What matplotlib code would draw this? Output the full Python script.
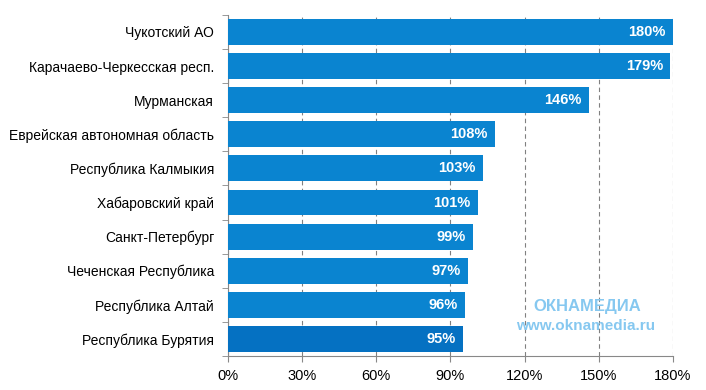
import matplotlib.pyplot as plt
import numpy as np

plt.rcParams['font.family'] = ['Liberation Sans', 'DejaVu Sans']

regions = ["Чукотский АО", "Карачаево-Черкесская респ.", "Мурманская",
           "Еврейская автономная область", "Республика Калмыкия",
           "Хабаровский край", "Санкт-Петербург", "Чеченская Республика",
           "Республика Алтай", "Республика Бурятия"]
values = [180, 179, 146, 108, 103, 101, 99, 97, 96, 95]
xticks = [0, 30, 60, 90, 120, 150, 180]

fig = plt.figure(figsize=(7.06, 3.9), dpi=100)
ax = fig.add_axes([0.323, 0.087, 0.630, 0.875])

y = np.arange(len(regions))
colors = ["#0a84d0"] * (len(regions) - 1) + ["#0571c2"]
ax.barh(y, values, height=0.76, color=colors, zorder=3)

for yi, v in zip(y, values):
    ax.text(v - 3, yi, f"{v}%", color="white", fontsize=10.5, fontweight="bold",
            ha="right", va="center", zorder=4)

ax.set_xlim(0, 180)
ax.set_ylim(len(regions) - 0.5, -0.5)
ax.set_xticks(xticks)
ax.set_xticklabels([f"{t}%" for t in xticks], fontsize=10.5)
ax.set_yticks(y)
ax.set_yticklabels(regions, fontsize=10)
ax.set_yticks(np.arange(len(regions) + 1) - 0.5, minor=True)
ax.tick_params(axis="y", which="major", length=0, pad=10)
ax.tick_params(axis="y", which="minor", length=4, color="#888888")
ax.tick_params(axis="x", length=4, color="#888888", pad=5)

ax.grid(axis="x", linestyle=(0, (4, 3)), color="#808080", linewidth=0.8, zorder=0)
for s in ["top", "right"]:
    ax.spines[s].set_visible(False)
for s in ["left", "bottom"]:
    ax.spines[s].set_color("#888888")

# watermark
fig.text(0.832, 0.215, "ОКНАМЕДИА", color="#86c8f0", fontsize=12,
         fontweight="bold", ha="center", va="center")
fig.text(0.829, 0.165, "www.oknamedia.ru", color="#86c8f0", fontsize=11,
         fontweight="bold", ha="center", va="center")

fig.savefig("out.png", dpi=100)
